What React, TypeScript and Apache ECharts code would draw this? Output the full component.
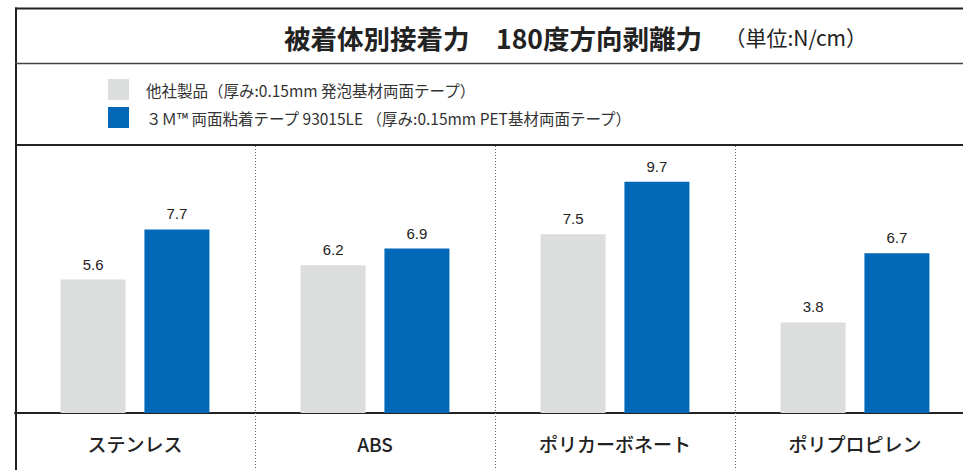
import React, { useEffect, useRef } from "react";
import * as echarts from "echarts";

const categories = ["ステンレス", "ABS", "ポリカーボネート", "ポリプロピレン"];
const otherValues = [5.6, 6.2, 7.5, 3.8];
const tapeValues = [7.7, 6.9, 9.7, 6.7];
const seriesNames = [
  "他社製品（厚み:0.15mm 発泡基材両面テープ）",
  "３Ｍ™ 両面粘着テープ 93015LE （厚み:0.15mm PET基材両面テープ）",
];
const titleMain = "被着体別接着力　180度方向剥離力";
const titleUnit = "　（単位:N/cm）";

const CJK = "'Noto Sans CJK JP', 'Noto Sans', sans-serif";
const NUM = "'Liberation Sans', Arial, sans-serif";

export default function App() {
  const ref = useRef<HTMLDivElement>(null);
  useEffect(() => {
    if (!ref.current) return;
    const chart = echarts.init(ref.current, undefined, { renderer: "svg" });
    const dotted = { color: "#666", width: 1, type: [1, 2] as number[] };
    const barLabel = {
      show: true,
      position: "top" as const,
      distance: 8,
      color: "#222",
      fontSize: 15,
      fontFamily: NUM,
    };
    chart.setOption({
      animation: false,
      backgroundColor: "#fff",
      title: {
        left: 284,
        top: 20,
        padding: 0,
        text: `{a|${titleMain}}{b|${titleUnit}}`,
        textStyle: {
          rich: {
            a: { fontSize: 26.5, fontWeight: "bold", color: "#222", fontFamily: CJK, lineHeight: 34 },
            b: { fontSize: 21, fontWeight: "normal", color: "#222", fontFamily: CJK, lineHeight: 34, padding: [0, 0, 0, 12] },
          },
        },
      },
      legend: {
        orient: "vertical",
        left: 108,
        top: 79,
        padding: 0,
        itemWidth: 21,
        itemHeight: 21,
        itemGap: 7,
        icon: "rect",
        selectedMode: false,
        data: seriesNames,
        textStyle: { fontSize: 15.5, color: "#333", fontFamily: CJK, padding: [0, 0, 0, 12] },
      },
      grid: { left: 15, top: 146, width: 960, height: 267, containLabel: false },
      xAxis: {
        type: "category",
        data: categories,
        axisLine: { lineStyle: { color: "#222", width: 2 } },
        axisTick: { show: true, length: 57, lineStyle: dotted },
        splitLine: { show: true, lineStyle: dotted },
        axisLabel: { fontSize: 19, fontWeight: 500, margin: 21, color: "#222", fontFamily: CJK },
      },
      yAxis: { type: "value", min: 0, max: 11.2, show: false, splitLine: { show: false } },
      series: [
        {
          name: seriesNames[0],
          type: "bar",
          data: otherValues,
          barWidth: 65,
          barGap: "29%",
          itemStyle: { color: "#dcdddd" },
          label: barLabel,
        },
        {
          name: seriesNames[1],
          type: "bar",
          data: tapeValues,
          barWidth: 65,
          barGap: "29%",
          itemStyle: { color: "#0068b7" },
          label: barLabel,
        },
      ],
      graphic: [
        { type: "line", shape: { x1: 15, y1: 8.5, x2: 990, y2: 8.5 }, style: { stroke: "#222", lineWidth: 2 }, z: 100 },
        { type: "line", shape: { x1: 16, y1: 7.5, x2: 16, y2: 470 }, style: { stroke: "#222", lineWidth: 2 }, z: 100 },
        { type: "line", shape: { x1: 15, y1: 63.5, x2: 990, y2: 63.5 }, style: { stroke: "#444", lineWidth: 1.5 }, z: 100 },
        { type: "line", shape: { x1: 15, y1: 145, x2: 990, y2: 145 }, style: { stroke: "#222", lineWidth: 2 }, z: 100 },
      ],
    });
    return () => chart.dispose();
  }, []);
  return (
    <div
      style={{ position: "fixed", left: 0, top: 0, width: 963, height: 470, overflow: "hidden", background: "#fff" }}
    >
      <div ref={ref} style={{ width: 990, height: 470 }} />
    </div>
  );
}
